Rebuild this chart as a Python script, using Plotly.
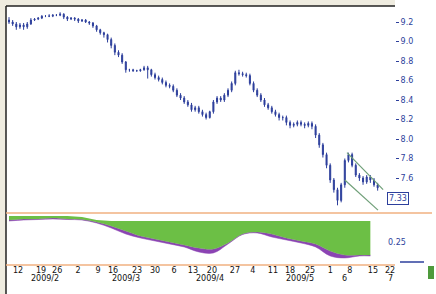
import plotly.graph_objects as go

# ---------------- data ----------------
open_ = [9.22,9.20,9.18,9.15,9.17,9.15,9.18,9.22,9.23,9.24,
         9.26,9.26,9.26,9.27,9.27,9.28,9.25,9.23,9.24,9.23,
         9.21,9.22,9.20,9.19,9.16,9.12,9.09,9.07,9.02,8.96,
         8.89,8.86,8.79,8.71,8.71,8.70,8.70,8.71,8.73,8.71,
         8.66,8.63,8.61,8.58,8.55,8.54,8.50,8.45,8.42,8.38,
         8.35,8.30,8.32,8.28,8.25,8.22,8.28,8.38,8.42,8.40,
         8.45,8.50,8.57,8.68,8.67,8.66,8.65,8.57,8.50,8.45,
         8.40,8.35,8.32,8.28,8.25,8.22,8.22,8.17,8.14,8.15,
         8.17,8.15,8.14,8.16,8.13,8.04,7.94,7.84,7.73,7.58,
         7.48,7.37,7.53,7.78,7.84,7.73,7.63,7.60,7.56,7.61,
         7.58,7.53]
high = [9.25,9.22,9.20,9.19,9.19,9.20,9.24,9.24,9.25,9.27,
        9.27,9.28,9.28,9.28,9.30,9.29,9.26,9.25,9.25,9.24,
        9.23,9.23,9.21,9.20,9.17,9.13,9.10,9.08,9.04,8.98,
        8.91,8.88,8.80,8.72,8.72,8.71,8.72,8.75,8.75,8.72,
        8.68,8.65,8.63,8.60,8.57,8.56,8.52,8.47,8.44,8.40,
        8.37,8.34,8.34,8.30,8.27,8.29,8.40,8.44,8.44,8.47,
        8.52,8.59,8.70,8.71,8.69,8.68,8.67,8.59,8.52,8.47,
        8.42,8.37,8.34,8.30,8.27,8.24,8.24,8.19,8.17,8.19,
        8.19,8.17,8.18,8.18,8.15,8.06,7.96,7.86,7.75,7.60,
        7.50,7.55,7.80,7.86,7.86,7.75,7.65,7.62,7.63,7.63,
        7.60,7.55]
low = [9.18,9.16,9.12,9.13,9.12,9.13,9.17,9.21,9.22,9.23,
       9.25,9.25,9.25,9.26,9.26,9.23,9.21,9.22,9.21,9.19,
       9.20,9.19,9.17,9.14,9.10,9.07,9.04,8.99,8.93,8.86,
       8.84,8.77,8.68,8.69,8.69,8.69,8.69,8.70,8.62,8.64,
       8.61,8.59,8.56,8.53,8.52,8.48,8.43,8.40,8.36,8.33,
       8.28,8.28,8.26,8.23,8.20,8.21,8.26,8.36,8.38,8.38,
       8.43,8.48,8.55,8.65,8.64,8.63,8.55,8.48,8.43,8.38,
       8.33,8.30,8.26,8.23,8.19,8.19,8.14,8.11,8.12,8.13,
       8.13,8.11,8.12,8.10,8.01,7.91,7.81,7.70,7.55,7.45,
       7.32,7.35,7.50,7.76,7.71,7.61,7.57,7.53,7.54,7.55,
       7.51,7.47]
close = [9.20,9.18,9.15,9.17,9.15,9.18,9.22,9.23,9.24,9.26,
         9.26,9.26,9.27,9.27,9.28,9.25,9.23,9.24,9.23,9.21,
         9.22,9.20,9.19,9.16,9.12,9.09,9.07,9.02,8.96,8.89,
         8.86,8.79,8.71,8.71,8.70,8.70,8.71,8.73,8.71,8.66,
         8.63,8.61,8.58,8.55,8.54,8.50,8.45,8.42,8.38,8.35,
         8.30,8.32,8.28,8.25,8.22,8.28,8.38,8.42,8.40,8.45,
         8.50,8.57,8.68,8.67,8.66,8.65,8.57,8.50,8.45,8.40,
         8.35,8.32,8.28,8.25,8.22,8.22,8.17,8.14,8.15,8.17,
         8.15,8.14,8.16,8.13,8.04,7.94,7.84,7.73,7.58,7.48,
         7.37,7.53,7.78,7.84,7.73,7.63,7.60,7.56,7.61,7.58,
         7.53,7.50]
candle_idx = list(range(len(close)))

# lower indicator panel
ind_idx = [0, 4, 8, 12, 16, 20, 24, 28, 32, 36, 40, 44, 48, 52, 56, 60, 64, 68, 72, 76, 80, 84, 88, 92, 96, 99]
ind_top = [0.05, 0.05, 0.045, 0.05, 0.05, 0.04, 0.01, 0, 0, 0, 0, 0, 0, 0, 0, 0, 0, 0, 0, 0, 0, 0, 0, 0, 0, 0]
ind_main = [0.01, 0.02, 0.02, 0.03, 0.02, 0.015, -0.01, -0.05, -0.10, -0.15, -0.18, -0.21, -0.24, -0.27,
            -0.28, -0.22, -0.13, -0.11, -0.13, -0.17, -0.20, -0.23, -0.30, -0.34, -0.34, -0.34]
ind_sig = [0.0, 0.01, 0.015, 0.02, 0.015, 0.01, -0.02, -0.07, -0.13, -0.17, -0.20, -0.23, -0.26, -0.31,
           -0.32, -0.23, -0.135, -0.12, -0.16, -0.19, -0.22, -0.26, -0.35, -0.37, -0.35, -0.35]

# channel lines (candle index, price)
chan_upper_x = [92.6, 102.5]
chan_upper_y = [7.86, 7.48]
chan_lower_x = [92.0, 101.1]
chan_lower_y = [7.58, 7.27]

price_ticks = [9.2, 9.0, 8.8, 8.6, 8.4, 8.2, 8.0, 7.8, 7.6]
day_tick_idx = [2.5, 8.8, 13.2, 18.9, 24.4, 28.5, 35.1, 40.0, 45.2, 50.4,
                55.6, 61.9, 66.8, 72.3, 77.0, 82.5, 88.0, 93.4, 99.7, 104.4]
day_tick_text = ["12", "19", "26", "2", "9", "16", "23", "30", "6", "13",
                 "20", "27", "4", "11", "18", "25", "1", "8", "15", "22"]
month_idx = [9.9, 32.0, 55.0, 79.7, 92.0, 104.4]
month_text = ["2009/2", "2009/3", "2009/4", "2009/5", "6", "7"]
last_price_label = "7.33"
ind_label = "0.25"

# ---------------- figure ----------------
W, H = 436, 294
L, R, T, B = 6, 41, 6, 29
pw, ph = W - L - R, H - T - B

def px(xp):
    return (xp - L) / pw

def py(yp):
    return (H - B - yp) / ph

BLUE = "#2d3f9c"
GREEN = "#6cbf45"
PURPLE = "#8b43b3"

fig = go.Figure()
fig.add_trace(go.Candlestick(
    x=candle_idx, open=open_, high=high, low=low, close=close,
    increasing=dict(line=dict(color=BLUE, width=1), fillcolor=BLUE),
    decreasing=dict(line=dict(color=BLUE, width=1), fillcolor=BLUE),
    whiskerwidth=0, xaxis="x", yaxis="y", showlegend=False, hoverinfo="skip"))
fig.add_trace(go.Scatter(x=chan_upper_x, y=chan_upper_y, mode="lines",
                         line=dict(color="#6f9f78", width=1.2), xaxis="x", yaxis="y", showlegend=False))
fig.add_trace(go.Scatter(x=chan_lower_x, y=chan_lower_y, mode="lines",
                         line=dict(color="#6f9f78", width=1.2), xaxis="x", yaxis="y", showlegend=False))

fig.add_trace(go.Scatter(x=ind_idx, y=ind_top, mode="lines", line=dict(color=GREEN, width=0),
                         xaxis="x2", yaxis="y2", showlegend=False))
fig.add_trace(go.Scatter(x=ind_idx, y=ind_main, mode="lines", line=dict(color=GREEN, width=0.5, shape="spline"),
                         fill="tonexty", fillcolor=GREEN, xaxis="x2", yaxis="y2", showlegend=False))
fig.add_trace(go.Scatter(x=ind_idx, y=ind_sig, mode="lines", line=dict(color=PURPLE, width=0.5, shape="spline"),
                         fill="tonexty", fillcolor=PURPLE, xaxis="x2", yaxis="y2", showlegend=False))

xr = [(L - 9) / 3.65, (L + pw - 9) / 3.65]
main_lo = 9.2 - (212 - 22) / 97.5
main_hi = 9.2 + (22 - 6) / 97.5

fig.update_layout(
    width=W, height=H,
    margin=dict(l=L, r=R, t=T, b=B, autoexpand=False),
    paper_bgcolor="white", plot_bgcolor="white",
    font=dict(family="DejaVu Sans", size=8, color="#222"),
    boxgap=0.6,
    xaxis=dict(domain=[0, 1], range=xr, showticklabels=False, showgrid=False, zeroline=False,
               rangeslider=dict(visible=False), anchor="y"),
    yaxis=dict(domain=[py(212), 1], range=[main_lo, main_hi], side="right", showgrid=False,
               zeroline=False, tickvals=price_ticks, ticktext=[f"{v:.1f}" for v in price_ticks],
               tickfont=dict(color=BLUE, size=8), ticks="outside", ticklen=3, tickcolor=BLUE, anchor="x"),
    xaxis2=dict(domain=[0, 1], range=xr, matches="x", showgrid=False, zeroline=False, anchor="y2",
                tickvals=day_tick_idx, ticktext=day_tick_text, tickfont=dict(size=8, color="#111"),
                ticks="", tickangle=0),
    yaxis2=dict(domain=[0.004, py(214)], range=[-0.43, 0.07], side="right", showgrid=False,
                zeroline=False, showticklabels=False, anchor="x2"),
    showlegend=False,
)

shapes = [
    # beige frame
    dict(type="rect", xref="paper", yref="paper", x0=px(0), x1=px(6), y0=py(H), y1=py(0),
         fillcolor="#efece0", line=dict(width=0), layer="below"),
    dict(type="rect", xref="paper", yref="paper", x0=px(0), x1=px(395), y0=py(6), y1=py(0),
         fillcolor="#efece0", line=dict(width=0), layer="below"),
    # dark border
    dict(type="line", xref="paper", yref="paper", x0=px(6), x1=px(395), y0=py(6), y1=py(6),
         line=dict(color="#222", width=1.5)),
    dict(type="line", xref="paper", yref="paper", x0=px(6), x1=px(6), y0=py(6), y1=py(H),
         line=dict(color="#222", width=1.5)),
    # orange panel separators
    dict(type="line", xref="paper", yref="paper", x0=px(6), x1=px(432), y0=py(213), y1=py(213),
         line=dict(color="#f0b080", width=1.5)),
    dict(type="line", xref="paper", yref="paper", x0=px(6), x1=px(395), y0=py(265), y1=py(265),
         line=dict(color="#f0b080", width=1.5)),
    # indicator current-value marker
    dict(type="line", xref="paper", yref="paper", x0=px(400), x1=px(424), y0=py(262), y1=py(262),
         line=dict(color=BLUE, width=1.5)),
    dict(type="rect", xref="paper", yref="paper", x0=px(428), x1=px(434), y0=py(279), y1=py(266),
         fillcolor="#4e9a3c", line=dict(width=0)),
]
fig.update_layout(shapes=shapes)

annotations = [
    dict(x=px(409), y=py(205), xref="paper", yref="paper", text=last_price_label, showarrow=False,
         font=dict(size=8, color=BLUE), bordercolor=BLUE, borderwidth=1, borderpad=1, bgcolor="white"),
    dict(x=px(408), y=py(249), xref="paper", yref="paper", text=ind_label, showarrow=False,
         font=dict(size=8, color=BLUE)),
]
for mi, mt in zip(month_idx, month_text):
    annotations.append(dict(x=mi, y=py(285), xref="x2", yref="paper", text=mt, showarrow=False,
                            font=dict(size=8, color="#111")))
fig.update_layout(annotations=annotations)

fig.write_html("out.html", config={"displayModeBar": False},
               post_script="document.body.style.margin='0';document.body.style.overflow='hidden';")
